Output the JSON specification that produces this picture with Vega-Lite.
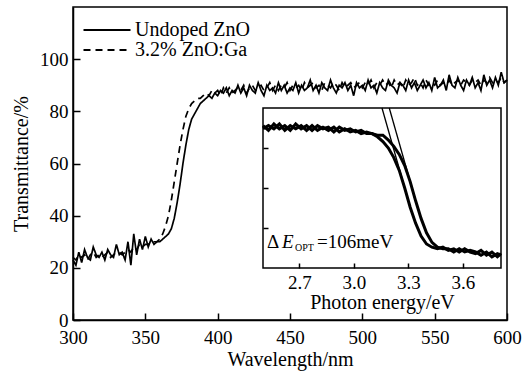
{
  "$schema": "https://vega.github.io/schema/vega-lite/v6.json",
  "width": 434,
  "height": 313,
  "autosize": {"type": "none"},
  "padding": {"left": 73, "top": 7, "right": 23, "bottom": 55},
  "background": "white",
  "config": {
    "view": {"stroke": "black", "strokeWidth": 1.5},
    "font": "Liberation Serif",
    "axis": {"labelFont": "Liberation Serif", "titleFont": "Liberation Serif", "labelFontSize": 19, "titleFontSize": 20, "titleFontWeight": "normal", "labelColor": "black", "titleColor": "black", "domainColor": "black", "tickColor": "black", "tickSize": -7, "tickWidth": 1.5, "domainWidth": 1.5, "grid": false, "labelPadding": 11},
    "legend": {"labelFont": "Liberation Serif"}
  },
  "datasets": {
    "main": [
      {"w":300,"u":23,"g":24},{"w":302,"u":21,"g":23},{"w":304,"u":26,"g":25},{"w":306,"u":22,"g":24},{"w":308,"u":27,"g":25},
      {"w":310,"u":24,"g":23},{"w":312,"u":23,"g":25},{"w":314,"u":28,"g":26},{"w":316,"u":25,"g":24},{"w":318,"u":24,"g":25},
      {"w":320,"u":26,"g":24},{"w":322,"u":23,"g":25},{"w":324,"u":27,"g":26},{"w":326,"u":25,"g":24},{"w":328,"u":24,"g":25},
      {"w":330,"u":29,"g":26},{"w":332,"u":25,"g":26},{"w":334,"u":26,"g":25},{"w":336,"u":23,"g":26},{"w":338,"u":30,"g":27},
      {"w":340,"u":21,"g":26},{"w":342,"u":33,"g":28},{"w":344,"u":25,"g":27},{"w":346,"u":31,"g":29},{"w":348,"u":27,"g":28},
      {"w":350,"u":32,"g":29},{"w":352,"u":28,"g":29},{"w":354,"u":31,"g":30},{"w":356,"u":29,"g":30},{"w":358,"u":30,"g":30},
      {"w":360,"u":30,"g":31},{"w":362,"u":31,"g":33},{"w":364,"u":32,"g":36},{"w":366,"u":33,"g":40},{"w":368,"u":35,"g":46},
      {"w":370,"u":39,"g":53},{"w":372,"u":45,"g":60},{"w":374,"u":52,"g":67},{"w":376,"u":60,"g":73},{"w":378,"u":67,"g":78},
      {"w":380,"u":73,"g":81},{"w":382,"u":77,"g":83},{"w":384,"u":79,"g":84},{"w":386,"u":81,"g":85},{"w":388,"u":83,"g":85},
      {"w":390,"u":84,"g":86},{"w":392,"u":85,"g":87},{"w":394,"u":86,"g":86},{"w":396,"u":85,"g":88},{"w":398,"u":87,"g":87},
      {"w":400,"u":86,"g":88},{"w":402,"u":88,"g":86},{"w":404,"u":87,"g":89},{"w":406,"u":89,"g":87},{"w":408,"u":86,"g":89},
      {"w":410,"u":88,"g":87},{"w":412,"u":87,"g":88},{"w":414,"u":90,"g":89},{"w":416,"u":87,"g":88},{"w":418,"u":89,"g":90},
      {"w":420,"u":86,"g":87},{"w":422,"u":90,"g":89},{"w":424,"u":88,"g":90},{"w":426,"u":87,"g":88},{"w":428,"u":91,"g":89},
      {"w":430,"u":88,"g":90},{"w":432,"u":86,"g":88},{"w":434,"u":90,"g":89},{"w":436,"u":88,"g":91},{"w":438,"u":89,"g":88},
      {"w":440,"u":87,"g":90},{"w":442,"u":91,"g":88},{"w":444,"u":88,"g":90},{"w":446,"u":90,"g":89},{"w":448,"u":87,"g":91},
      {"w":450,"u":89,"g":88},{"w":452,"u":88,"g":90},{"w":454,"u":91,"g":89},{"w":456,"u":87,"g":90},{"w":458,"u":90,"g":88},
      {"w":460,"u":88,"g":91},{"w":462,"u":89,"g":89},{"w":464,"u":92,"g":90},{"w":466,"u":88,"g":91},{"w":468,"u":90,"g":89},
      {"w":470,"u":87,"g":90},{"w":472,"u":91,"g":88},{"w":474,"u":89,"g":91},{"w":476,"u":88,"g":90},{"w":478,"u":92,"g":89},
      {"w":480,"u":89,"g":91},{"w":482,"u":87,"g":90},{"w":484,"u":90,"g":88},{"w":486,"u":89,"g":91},{"w":488,"u":91,"g":89},
      {"w":490,"u":88,"g":90},{"w":492,"u":90,"g":91},{"w":494,"u":86,"g":89},{"w":496,"u":91,"g":90},{"w":498,"u":89,"g":91},
      {"w":500,"u":90,"g":89},{"w":502,"u":88,"g":91},{"w":504,"u":92,"g":90},{"w":506,"u":89,"g":92},{"w":508,"u":90,"g":89},
      {"w":510,"u":87,"g":91},{"w":512,"u":91,"g":90},{"w":514,"u":89,"g":92},{"w":516,"u":88,"g":90},{"w":518,"u":92,"g":91},
      {"w":520,"u":90,"g":89},{"w":522,"u":89,"g":92},{"w":524,"u":87,"g":90},{"w":526,"u":91,"g":91},{"w":528,"u":90,"g":89},
      {"w":530,"u":88,"g":92},{"w":532,"u":92,"g":90},{"w":534,"u":89,"g":91},{"w":536,"u":91,"g":93},{"w":538,"u":88,"g":90},
      {"w":540,"u":90,"g":91},{"w":542,"u":92,"g":89},{"w":544,"u":89,"g":92},{"w":546,"u":91,"g":90},{"w":548,"u":88,"g":91},
      {"w":550,"u":93,"g":90},{"w":552,"u":89,"g":92},{"w":554,"u":90,"g":90},{"w":556,"u":92,"g":91},{"w":558,"u":88,"g":90},
      {"w":560,"u":94,"g":92},{"w":562,"u":90,"g":90},{"w":564,"u":89,"g":91},{"w":566,"u":93,"g":92},{"w":568,"u":90,"g":90},
      {"w":570,"u":88,"g":92},{"w":572,"u":92,"g":91},{"w":574,"u":90,"g":90},{"w":576,"u":93,"g":92},{"w":578,"u":89,"g":91},
      {"w":580,"u":91,"g":92},{"w":582,"u":88,"g":90},{"w":584,"u":94,"g":92},{"w":586,"u":90,"g":91},{"w":588,"u":92,"g":93},
      {"w":590,"u":89,"g":91},{"w":592,"u":93,"g":92},{"w":594,"u":90,"g":91},{"w":596,"u":95,"g":93},{"w":598,"u":91,"g":91},
      {"w":600,"u":92,"g":92}
    ],
    "inset": [
      {"e":2.50,"a":89,"b":87},{"e":2.53,"a":86,"b":89},{"e":2.56,"a":90,"b":87},{"e":2.59,"a":87,"b":90},{"e":2.62,"a":89,"b":86},
      {"e":2.65,"a":86,"b":89},{"e":2.68,"a":90,"b":87},{"e":2.71,"a":87,"b":89},{"e":2.74,"a":89,"b":86},{"e":2.77,"a":86,"b":89},
      {"e":2.80,"a":89,"b":86},{"e":2.83,"a":87,"b":88},{"e":2.86,"a":88,"b":86},{"e":2.89,"a":85,"b":88},{"e":2.92,"a":88,"b":85},
      {"e":2.95,"a":86,"b":87},{"e":2.98,"a":87,"b":85},{"e":3.01,"a":85,"b":86},{"e":3.04,"a":86,"b":84},{"e":3.07,"a":84,"b":85},
      {"e":3.10,"a":84,"b":84},{"e":3.13,"a":82,"b":83},{"e":3.16,"a":79,"b":83},{"e":3.19,"a":75,"b":80},{"e":3.22,"a":69,"b":76},
      {"e":3.25,"a":61,"b":71},{"e":3.28,"a":50,"b":64},{"e":3.31,"a":38,"b":54},{"e":3.34,"a":28,"b":42},{"e":3.37,"a":20,"b":31},
      {"e":3.40,"a":15,"b":22},{"e":3.43,"a":13,"b":16},{"e":3.46,"a":12,"b":13},{"e":3.49,"a":13,"b":12},{"e":3.52,"a":11,"b":12},
      {"e":3.55,"a":12,"b":10},{"e":3.58,"a":10,"b":12},{"e":3.61,"a":12,"b":10},{"e":3.64,"a":10,"b":11},{"e":3.67,"a":9,"b":10},
      {"e":3.70,"a":11,"b":8},{"e":3.73,"a":8,"b":10},{"e":3.76,"a":10,"b":7},{"e":3.79,"a":7,"b":9},{"e":3.81,"a":9,"b":8}
    ],
    "fit": [
      {"e":3.155,"v":100,"s":"A"},{"e":3.30,"v":42,"s":"A"},
      {"e":3.195,"v":100,"s":"B"},{"e":3.34,"v":42,"s":"B"}
    ]
  },
  "layer": [
    {
      "data": {"name": "main"},
      "transform": [{"fold": ["u", "g"], "as": ["s", "t"]}],
      "mark": {"type": "line", "strokeWidth": 1.7, "color": "black"},
      "encoding": {
        "x": {"field": "w", "type": "quantitative", "scale": {"domain": [300, 600], "nice": false, "zero": false},
              "axis": {"title": "Wavelength/nm", "values": [300, 350, 400, 450, 500, 550, 600], "labelFlush": false, "labelPadding": 15, "titlePadding": 2}},
        "y": {"field": "t", "type": "quantitative", "scale": {"domain": [0, 120], "nice": false},
              "axis": {"title": "Transmittance/%", "values": [0, 20, 40, 60, 80, 100], "titlePadding": 8, "labelPadding": 12}},
        "strokeDash": {"field": "s", "type": "nominal", "scale": {"domain": ["u", "g"], "range": [[1, 0], [7, 5]]},
              "legend": {"orient": "none", "legendX": 24, "legendY": 13, "title": null, "padding": 0,
                         "symbolType": "M-4.7,0L4.7,0", "symbolSize": 100, "symbolStrokeWidth": 2, "symbolStrokeColor": "black", "symbolFillColor": "transparent",
                         "labelFontSize": 20, "labelColor": "black", "labelOffset": 18, "rowPadding": 0,
                         "labelExpr": "datum.label == 'u' ? 'Undoped ZnO' : '3.2% ZnO:Ga'"}}
      }
    },
    {
      "layer": [
        {
          "data": {"values": [{}]},
          "mark": {"type": "rect", "fill": "white", "stroke": "black", "strokeWidth": 1.5},
          "encoding": {
            "x": {"datum": 2.5, "type": "quantitative", "scale": {"domain": [2.5, 3.81], "range": [190, 428], "nice": false, "zero": false}},
            "x2": {"datum": 3.81},
            "y": {"datum": 0, "type": "quantitative", "scale": {"domain": [0, 100], "range": [261, 101], "nice": false}},
            "y2": {"datum": 100}
          }
        },
        {
          "data": {"name": "inset"},
          "transform": [{"fold": ["a", "b"], "as": ["s", "v"]}],
          "mark": {"type": "line", "strokeWidth": 3, "color": "black"},
          "encoding": {
            "x": {"field": "e", "type": "quantitative", "scale": {"domain": [2.5, 3.81], "range": [190, 428], "nice": false, "zero": false},
                  "axis": {"orient": "bottom", "offset": -52, "values": [2.7, 3.0, 3.3, 3.6], "format": ".1f", "title": "Photon energy/eV",
                           "domain": false, "tickSize": -5, "labelPadding": 10, "labelFontSize": 19, "titleFontSize": 20, "titlePadding": 0, "zindex": 1}},
            "y": {"field": "v", "type": "quantitative", "scale": {"domain": [0, 100], "range": [261, 101], "nice": false},
                  "axis": {"orient": "left", "offset": -190, "values": [25, 50, 75], "labels": false, "title": null, "domain": false, "tickSize": -5, "zindex": 1}},
            "detail": {"field": "s"}
          }
        },
        {
          "data": {"name": "fit"},
          "mark": {"type": "line", "strokeWidth": 1.3, "color": "black"},
          "encoding": {
            "x": {"field": "e", "type": "quantitative", "scale": {"domain": [2.5, 3.81], "range": [190, 428], "nice": false, "zero": false}},
            "y": {"field": "v", "type": "quantitative", "scale": {"domain": [0, 100], "range": [261, 101], "nice": false}},
            "detail": {"field": "s"}
          }
        },
        {
          "data": {"values": [{}]},
          "mark": {"type": "text", "text": "Δ", "font": "Liberation Serif", "fontSize": 19, "align": "left", "baseline": "alphabetic", "color": "black"},
          "encoding": {"x": {"datum": 2.522, "type": "quantitative"}, "y": {"datum": 12.5, "type": "quantitative"}}
        },
        {
          "data": {"values": [{}]},
          "mark": {"type": "text", "text": "E", "font": "Liberation Serif", "fontStyle": "italic", "fontSize": 19, "align": "left", "baseline": "alphabetic", "dx": 15, "color": "black"},
          "encoding": {"x": {"datum": 2.522, "type": "quantitative"}, "y": {"datum": 12.5, "type": "quantitative"}}
        },
        {
          "data": {"values": [{}]},
          "mark": {"type": "text", "text": "OPT", "font": "Liberation Serif", "fontSize": 10, "align": "left", "baseline": "alphabetic", "dx": 28, "dy": 3, "color": "black"},
          "encoding": {"x": {"datum": 2.522, "type": "quantitative"}, "y": {"datum": 12.5, "type": "quantitative"}}
        },
        {
          "data": {"values": [{}]},
          "mark": {"type": "text", "text": "=106meV", "font": "Liberation Serif", "fontSize": 19, "align": "left", "baseline": "alphabetic", "dx": 50, "color": "black"},
          "encoding": {"x": {"datum": 2.522, "type": "quantitative"}, "y": {"datum": 12.5, "type": "quantitative"}}
        }
      ]
    }
  ],
  "resolve": {"scale": {"x": "independent", "y": "independent", "strokeDash": "independent"}, "axis": {"x": "independent", "y": "independent"}}
}
